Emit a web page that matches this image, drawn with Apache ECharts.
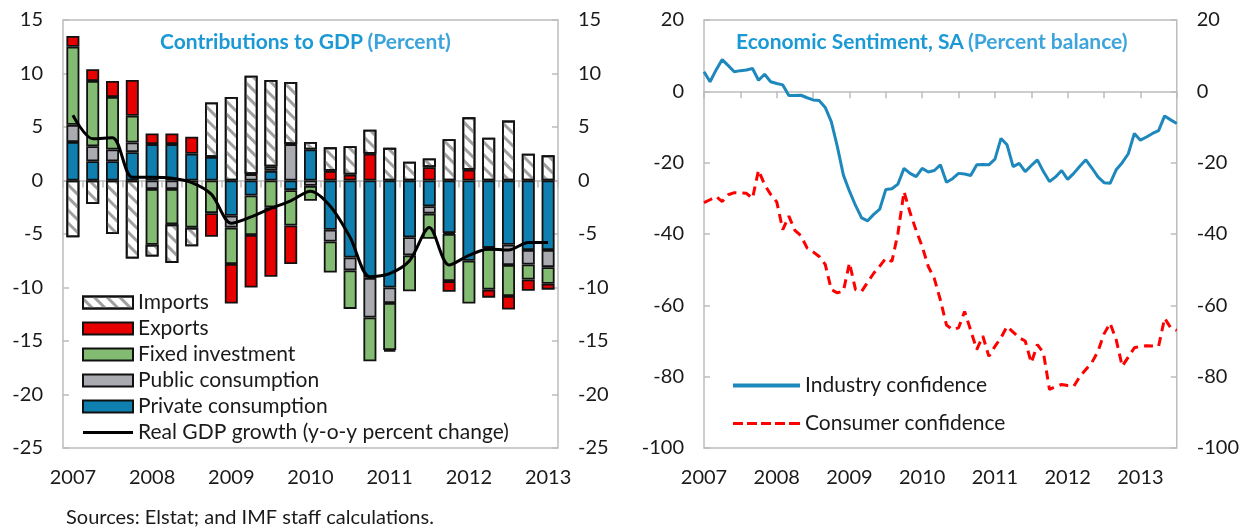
<!DOCTYPE html>
<html>
<head>
<meta charset="utf-8">
<script src="https://cdn.jsdelivr.net/npm/echarts@6/dist/echarts.min.js"></script>
<style>
html, body { margin: 0; padding: 0; background: #fff; }
#main { width: 1242px; height: 529px; }
</style>
</head>
<body>
<div id="main"></div>
<script>
// quarterly contributions to GDP (percentage points), 2007Q1 - 2013Q1
var quarters = [
    '2007Q1', '2007Q2', '2007Q3', '2007Q4',
    '2008Q1', '2008Q2', '2008Q3', '2008Q4',
    '2009Q1', '2009Q2', '2009Q3', '2009Q4',
    '2010Q1', '2010Q2', '2010Q3', '2010Q4',
    '2011Q1', '2011Q2', '2011Q3', '2011Q4',
    '2012Q1', '2012Q2', '2012Q3', '2012Q4',
    '2013Q1'
];
var privateCons = [3.6, 1.8, 1.8, 2.65, 3.4, 3.4, 2.5, 2.2, -3.3, -1.4, 0.9, -0.9, 2.9, -4.6, -7.2, -9.1, -10.0, -5.3, -2.4, -4.9, -7.5, -6.3, -6.0, -6.5, -6.5];
var publicCons = [1.6, 1.4, 1.1, 0.9, -0.8, -0.8, null, null, -1.1, 0.6, 0.4, 3.4, -0.5, -1.1, -1.2, -3.7, -1.45, -1.7, -0.7, -0.1, null, -0.1, -1.9, -1.35, -1.6];
var fixedInv = [7.3, 6.1, 4.9, 2.5, -5.2, -3.3, -4.4, -3.05, -3.4, -3.7, -2.5, -3.3, -1.4, -2.9, -3.6, -4.1, -4.4, -3.35, -2.35, -4.4, -4.0, -3.8, -2.9, -1.4, -1.55];
var exportsC = [1.0, 1.1, 1.5, 3.35, 1.0, 1.0, 1.6, -2.2, -3.7, -4.9, -6.5, -3.6, null, 0.9, 0.55, 2.5, -0.15, null, 1.25, -1.0, 1.0, -0.75, -1.25, -1.05, -0.55];
var importsC = [-5.3, -2.2, -5.0, -7.3, -1.1, -3.6, -1.75, 5.1, 7.8, 9.2, 8.1, 5.8, 0.7, 2.2, 2.65, 2.25, 3.05, 1.75, 0.8, 3.85, 4.9, 4.0, 5.6, 2.5, 2.35];
var gdpGrowth = [6.1, 3.9, 4.0, 0.3, 0.3, 0.2, -0.2, -1.3, -4.0, -3.4, -2.6, -1.9, -1.0, -2.4, -5.3, -9.0, -8.7, -7.5, -4.4, -7.9, -7.0, -6.4, -6.5, -5.8, -5.8];

// monthly sentiment, Jan 2007 - Jul 2013
var years = ['2007', '2008', '2009', '2010', '2011', '2012', '2013'];
var industry = [
    5.5, 2.7, 6.0, 8.9, 7.2, 5.5, 5.8, 6.0, 6.4, 3.1, 4.8, 2.7,
    2.2, 1.8, -1.2, -1.2, -1.1, -1.8, -2.4, -2.6, -4.5, -8.5, -15.5, -23.5,
    -28.0, -32.0, -35.5, -36.3, -34.5, -33.0, -27.5, -27.3, -26.0, -21.6, -23.0, -23.9,
    -21.6, -22.6, -22.2, -20.6, -25.5, -24.5, -23.0, -23.2, -23.6, -20.6, -20.5, -20.6,
    -19.0, -13.2, -15.0, -21.1, -20.2, -22.5, -20.8, -19.2, -22.5, -25.3, -24.0, -22.2,
    -24.7, -23.0, -21.0, -19.2, -21.5, -24.0, -25.6, -25.8, -22.0, -20.0, -17.5, -11.8,
    -13.7, -12.8, -11.8, -11.0, -6.9, -8.0, -9.0
];
var consumer = [
    -31.2, -30.4, -29.5, -30.9, -29.0, -28.4, -28.5, -28.6, -30.0, -22.1, -26.2, -28.9,
    -31.0, -38.8, -35.0, -39.0, -40.5, -43.9, -45.0, -46.3, -48.5, -55.6, -56.5, -56.0,
    -48.1, -55.6, -56.1, -53.5, -51.0, -49.0, -46.8, -47.7, -39.8, -28.1, -34.0, -39.0,
    -43.5, -49.1, -52.5, -58.5, -65.5, -66.8, -66.3, -61.7, -67.0, -72.4, -68.6, -74.3,
    -71.5, -69.1, -65.9, -67.5, -69.1, -70.0, -76.1, -71.0, -73.3, -83.6, -82.8, -82.2,
    -82.5, -82.7, -80.0, -78.0, -76.0, -72.9, -68.0, -65.0, -69.6, -77.1, -74.5, -71.9,
    -71.5, -71.3, -71.4, -71.5, -63.6, -66.3, -67.0
];

var months = [];
years.forEach(function (y) {
    for (var m = 1; m <= 12; m++) {
        if (months.length < industry.length) months.push(y + '-' + m);
    }
});

var FONT = 'Lato';
var TXT = '#1a1a1a';
var GRID_LINE = '#bdbdbd';
var FS = 20;

// legend icons for lines: a plain stroke and a dashed one
var solidIcon = 'path://M0,0h50v3h-50z';
var dashIcon = 'path://M0,0h10v3h-10z M14,0h10v3h-10z M28,0h10v3h-10z M42,0h10v3h-10z M56,0h11v3h-11z';

function labelAxis(grid, cats, step, gap) {
    return {
        gridIndex: grid, type: 'category', data: cats, boundaryGap: gap,
        position: 'bottom',
        axisLine: { show: false, onZero: false },
        axisTick: { show: false },
        axisLabel: {
            interval: step, margin: 20, fontSize: FS, color: TXT, fontFamily: FONT,
            formatter: function (v) { return v.slice(0, 4); }
        }
    };
}
function zeroAxis(grid, cats, step, gap) {
    return {
        gridIndex: grid, type: 'category', data: cats, boundaryGap: gap,
        axisLine: { onZero: true, lineStyle: { color: GRID_LINE, width: 1.5 } },
        axisTick: { show: true, inside: true, length: 7, interval: step, lineStyle: { color: GRID_LINE, width: 1.5 } },
        axisLabel: { show: false }
    };
}
function valAxis(grid, pos, min, max, step) {
    return {
        gridIndex: grid, type: 'value', position: pos, min: min, max: max, interval: step,
        axisLine: { show: false },
        axisTick: { show: true, inside: true, length: 6, lineStyle: { color: GRID_LINE, width: 1.5 } },
        splitLine: { show: false },
        axisLabel: { margin: 20, fontSize: FS, color: TXT, fontFamily: FONT }
    };
}

function barSeries(name, data, color, decal) {
    var style = { color: color, borderColor: '#111', borderWidth: 1.8 };
    if (decal) style.decal = decal;
    return {
        name: name, type: 'bar', stack: 'gdp', xAxisIndex: 0, yAxisIndex: 0,
        barWidth: 13, data: data, itemStyle: style
    };
}

var hatch = {
    symbol: 'rect', symbolSize: 1, dashArrayX: [1, 0], dashArrayY: [3, 6],
    rotation: Math.PI / 4, color: '#a0a0a0'
};

var titleRich = {
    b: { fontSize: 21, fontWeight: 'bold', color: '#1b99d6', fontFamily: FONT },
    n: { fontSize: 21, color: '#3ca4dc', fontFamily: FONT }
};

var option = {
    animation: false,
    textStyle: { fontFamily: FONT },
    title: [
        {
            left: 160, top: 32, padding: 0,
            text: '{b|Contributions to GDP} {n|(Percent)}',
            textStyle: { rich: titleRich }
        },
        {
            left: 736, top: 32, padding: 0,
            text: '{b|Economic Sentiment, SA} {n|(Percent balance)}',
            textStyle: { rich: titleRich }
        }
    ],
    legend: [
        {
            orient: 'vertical', left: 82, top: 292, padding: 0,
            itemWidth: 50, itemHeight: 12, itemGap: 5,
            textStyle: { fontSize: 21, lineHeight: 21, color: TXT, fontFamily: FONT },
            data: [
                { name: 'Imports', icon: 'rect' },
                { name: 'Exports', icon: 'rect' },
                { name: 'Fixed investment', icon: 'rect' },
                { name: 'Public consumption', icon: 'rect' },
                { name: 'Private consumption', icon: 'rect' },
                { name: 'Real GDP growth (y-o-y percent change)', icon: solidIcon }
            ]
        },
        {
            orient: 'vertical', left: 733, top: 375, padding: 0,
            itemWidth: 67, itemHeight: 14, itemGap: 17,
            textStyle: { fontSize: 21, lineHeight: 21, color: TXT, fontFamily: FONT },
            data: [
                { name: 'Industry confidence', icon: solidIcon },
                { name: 'Consumer confidence', icon: dashIcon }
            ]
        }
    ],
    grid: [
        { left: 63, top: 20, width: 495, height: 428, show: true, borderColor: GRID_LINE, borderWidth: 1.5 },
        { left: 704, top: 20, width: 473, height: 428, show: true, borderColor: GRID_LINE, borderWidth: 1.5 }
    ],
    xAxis: [
        labelAxis(0, quarters, 3, true),
        zeroAxis(0, quarters, 0, true),
        labelAxis(1, months, 11, false),
        zeroAxis(1, months, 5, false)
    ],
    yAxis: [
        valAxis(0, 'left', -25, 15, 5),
        valAxis(0, 'right', -25, 15, 5),
        valAxis(1, 'left', -100, 20, 20),
        valAxis(1, 'right', -100, 20, 20)
    ],
    series: [
        barSeries('Private consumption', privateCons, '#0f7fb0'),
        barSeries('Public consumption', publicCons, '#a9abb0'),
        barSeries('Fixed investment', fixedInv, '#84bb72'),
        barSeries('Exports', exportsC, '#e60000'),
        barSeries('Imports', importsC, '#ffffff', hatch),
        {
            name: 'Real GDP growth (y-o-y percent change)', type: 'line', xAxisIndex: 0, yAxisIndex: 0,
            data: gdpGrowth, smooth: 0.3, symbol: 'none', z: 5,
            itemStyle: { color: '#000' },
            lineStyle: { color: '#000', width: 3 }
        },
        {
            name: 'Industry confidence', type: 'line', xAxisIndex: 2, yAxisIndex: 2,
            data: industry, symbol: 'none',
            itemStyle: { color: '#1e88bd' },
            lineStyle: { color: '#1e88bd', width: 3 }
        },
        {
            name: 'Consumer confidence', type: 'line', xAxisIndex: 2, yAxisIndex: 2,
            data: consumer, symbol: 'none',
            itemStyle: { color: '#ff0000' },
            lineStyle: { color: '#ff0000', width: 3, type: [9, 6] }
        }
    ],
    graphic: [
        {
            type: 'text', left: 66, top: 508,
            style: { text: 'Sources: Elstat; and IMF staff calculations.', font: '20px Lato', fill: TXT }
        }
    ]
};

var myChart = echarts.init(document.getElementById('main'));
myChart.setOption(option);
</script>
</body>
</html>
